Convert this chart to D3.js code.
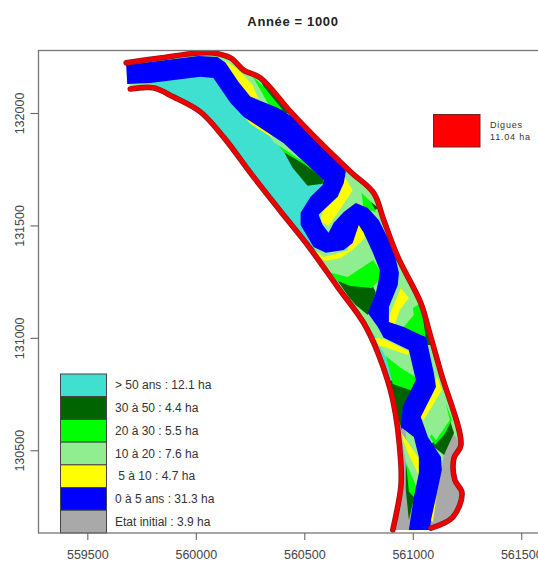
<!DOCTYPE html>
<html>
<head>
<meta charset="utf-8">
<script src="https://cdn.jsdelivr.net/npm/d3@7"></script>
<style>
  html, body { margin: 0; padding: 0; background: #fff; }
  svg { display: block; }
  text { font-family: "Liberation Sans", Arial, sans-serif; }
</style>
</head>
<body>
<svg class="carte"></svg>
<script>
let xTicks = [559500, 560000, 560500, 561000, 561500];
let yTicks = [130500, 131000, 131500, 132000];

let classes = ["> 50 ans : 12.1 ha", "30 à 50 : 4.4 ha", "20 à 30 : 5.5 ha", "10 à 20 : 7.6 ha",
               " 5 à 10 : 4.7 ha", "0 à 5 ans : 31.3 ha", "Etat initial : 3.9 ha"];
let couleurs = ["#40e0d0", "#006400", "#00ff00", "#90ee90", "#ffff00", "#0000ff", "#a9a9a9"];

let digueDroite = [[559679,132223],[559836,132245],[560012,132267],[560081,132267],[560160,132245],[560220,132191],
  [560298,132156],[560437,132005],[560562,131880],[560714,131738],[560820,131644],[560866,131524],[560931,131360],
  [561037,131155],[561074,131035],[561130,130844],[561222,130524],[561190,130466],[561194,130368],[561227,130310],
  [561185,130203],[561084,130154]];
let digueGauche = [[559698,132107],[559804,132112],[559896,132072],[560021,132005],[560127,131894],[560266,131716],
  [560423,131524],[560515,131413],[560654,131226],[560774,131066],[560843,130924],[560908,130724],[560945,130444],
  [560945,130337],[560908,130146]];

// chenal : rive droite en descendant puis rive gauche en remontant
let chenal = [[559679,132214],[560012,132254],[560100,132249],[560137,132223],[560197,132138],[560252,132072],
  [560377,132023],[560469,131969],[560589,131867],[560682,131769],[560691,131738],[560682,131689],[560654,131627],
  [560566,131547],[560585,131502],[560612,131467],[560635,131511],[560682,131560],[560737,131600],[560793,131578],
  [560843,131524],[560913,131391],[560936,131289],[560931,131235],[560890,131137],[560890,131071],[560959,131048],
  [561037,131013],[561061,131004],[561097,130844],[561107,130782],[561037,130648],[561070,130559],[561130,130470],
  [561134,130412],[561084,130190],[561079,130145],
  [560982,130145],[561005,130292],[561028,130399],[561028,130470],[561005,130559],[560945,130604],[560954,130693],
  [561014,130813],[560982,130946],[560866,131000],[560839,131048],[560793,131111],[560830,131200],[560843,131258],
  [560848,131302],[560816,131378],[560774,131467],[560751,131502],[560723,131422],[560682,131391],[560599,131378],
  [560543,131404],[560483,131502],[560483,131556],[560529,131627],[560585,131680],[560589,131702],[560404,131867],
  [560220,131983],[560160,132045],[560081,132156],[560021,132161],[559790,132134],[559684,132129]];

let zones50 = [[[559698,132138],[559804,132129],[559896,132085],[560021,132018],[560127,131907],[560266,131729],
  [560423,131538],[560515,131427],[560654,131240],[560774,131080],[560843,130928],[560908,130724],[560945,130581],
  [560954,130635],[560922,130813],[560839,130991],[560714,131146],[560622,131302],[560538,131413],[560529,131546],
  [560645,131711],[560206,132058],[560044,132191],[559698,132169]]];
let zonesInitial = [[[561185,130577],[561222,130524],[561190,130466],[561194,130368],[561227,130310],[561185,130203],
  [561084,130159],[561061,130235],[561097,130301],[561130,130399],[561144,130488]],
  [[560913,130710],[560968,130581],[560977,130444],[561000,130145],[560908,130145],[560945,130337],[560945,130444]]];
let zones30 = [[[560289,132165],[560446,131996],[560368,132005]],
  [[560404,131831],[560589,131720],[560585,131685],[560515,131676],[560446,131756]],
  [[560806,131605],[560843,131578],[560825,131569]],
  [[560645,131266],[560723,131235],[560816,131231],[560830,131200],[560793,131102],[560737,131146],[560705,131182]],
  [[561028,131177],[561061,131124],[561093,130968],[561014,130968],[561037,131035]],
  [[560890,130813],[561014,130777],[560954,130679],[560950,130590],[560913,130702]],
  [[561171,130635],[561190,130577],[561144,130479],[561084,130524]],
  [[560968,130435],[561010,130301],[560982,130190],[560968,130323]]];
let zones20 = [[[560252,132174],[560317,132112],[560400,132014],[560307,132023]],
  [[560358,131885],[560423,131876],[560538,131765],[560599,131702],[560497,131774],[560404,131827]],
  [[560751,131658],[560806,131605],[560830,131560],[560760,131578]],
  [[560612,131302],[560700,131280],[560816,131347],[560848,131302],[560848,131258],[560811,131222],[560714,131231],[560654,131253]],
  [[561000,131133],[561037,131155],[561061,130991],[560954,131044]],
  [[560876,130920],[560945,130875],[561024,130822],[561014,130759],[560908,130795]],
  [[561153,130706],[561181,130635],[561144,130568],[561102,130524],[561079,130559]],
  [[560968,130457],[561024,130346],[561010,130288],[560982,130315]]];
let zones10 = [[[560206,132192],[560261,132165],[560344,132023],[560275,132058]],
  [[560312,131943],[560423,131885],[560534,131769],[560469,131800],[560358,131871]],
  [[560714,131680],[560760,131667],[560774,131578],[560682,131547],[560626,131471],[560603,131458],[560566,131516]],
  [[560552,131369],[560599,131355],[560723,131400],[560774,131453],[560820,131347],[560700,131271],[560622,131289]],
  [[560954,131222],[560996,131169],[561005,131102],[560954,131044],[560890,131066],[560927,131133]],
  [[560834,130977],[560977,130937],[561019,130822],[560945,130866],[560885,130911]],
  [[561111,130768],[561153,130702],[561171,130635],[561107,130546],[561042,130626]],
  [[560945,130568],[561033,130421],[561019,130332],[560968,130448]]];
let zones5 = [[[560132,132236],[560197,132192],[560261,132125],[560289,132063],[560243,132076],[560197,132125]],
  [[560229,131978],[560331,131934],[560354,131889],[560252,131951]],
  [[560668,131747],[560723,131658],[560649,131547],[560612,131498],[560575,131516],[560599,131636]],
  [[560520,131413],[560589,131360],[560700,131387],[560737,131502],[560769,131498],[560779,131444],[560723,131391],[560668,131355],[560599,131342],[560562,131360]],
  [[560945,131222],[560982,131177],[560940,131124],[560917,131057],[560880,131071]],
  [[560825,131000],[560866,130995],[560987,130937],[560977,130924],[560866,130960],[560843,130964]],
  [[561111,130831],[561134,130768],[561051,130635],[561028,130644],[561097,130759]],
  [[560945,130581],[561042,130444],[561033,130377],[560968,130510]],
  [[561111,130301],[561093,130181],[561079,130190]]];

let width = 538, height = 562,
    frame = {left: 38.5, top: 50.5, right: 541, bottom: 533};

let svg = d3.select(".carte").attr("width", width).attr("height", height);

let x = d3.scaleLinear().domain([559275, 561591]).range([frame.left, frame.right]);
let y = d3.scaleLinear().domain([130132, 132278]).range([frame.bottom, frame.top]);

svg.append("defs").append("filter").attr("id", "flou")
  .append("feGaussianBlur").attr("stdDeviation", 0.5);
svg.select("defs").append("clipPath").attr("id", "cadre").append("rect")
  .attr("x", frame.left).attr("y", frame.top)
  .attr("width", frame.right - frame.left).attr("height", frame.bottom - frame.top);

let ligne = d3.line().x(d => x(d[0])).y(d => y(d[1]));
let ligneDigue = d3.line().x(d => x(d[0])).y(d => y(d[1])).curve(d3.curveCatmullRom.alpha(0.5));
let carte = svg.append("g").attr("clip-path", "url(#cadre)").append("g").attr("filter", "url(#flou)");

// fond du lit entre les deux digues
carte.append("path").attr("d", ligne(digueDroite.concat(digueGauche.slice().reverse())) + "Z")
  .attr("fill", couleurs[3]);

// zones, du fond vers le chenal
[[zones50, 0], [zonesInitial, 6], [zones30, 1], [zones20, 2], [zones10, 3], [zones5, 4]].forEach(z => {
  carte.append("g").selectAll("path").data(z[0]).join("path")
    .attr("d", d => ligne(d) + "Z")
    .attr("fill", couleurs[z[1]]);
});

carte.append("path").attr("d", ligne(chenal) + "Z").attr("fill", couleurs[5]);

// digues : trait sombre puis trait rouge
[digueDroite, digueGauche].forEach(d => {
  carte.append("path").attr("d", ligneDigue(d)).attr("fill", "none")
    .attr("stroke", "#8b1a1a").attr("stroke-width", 5.6).attr("stroke-linecap", "round");
  carte.append("path").attr("d", ligneDigue(d)).attr("fill", "none")
    .attr("stroke", "#ee0000").attr("stroke-width", 4.2).attr("stroke-linecap", "round");
});

// legende
let legendeY = d3.scaleBand().domain(classes).range([374, 533]);
let legende = svg.append("g").attr("class", "legende");
legende.selectAll("rect").data(classes).join("rect")
  .attr("x", 60.5).attr("y", d => legendeY(d)).attr("width", 46).attr("height", legendeY.bandwidth())
  .attr("fill", (d, i) => couleurs[i]).attr("stroke", "#444").attr("stroke-width", 1);
legende.selectAll("text").data(classes).join("text")
  .attr("x", 115).attr("y", d => legendeY(d) + legendeY.bandwidth() / 2 + 4)
  .attr("font-size", 12).attr("fill", "#333").style("white-space", "pre")
  .text(d => d);

svg.append("rect").attr("x", 433.5).attr("y", 114.5).attr("width", 46.5).attr("height", 32.5)
  .attr("fill", "#ff0000").attr("stroke", "#7a2020").attr("stroke-width", 1);
svg.selectAll("text.digues").data(["Digues", "11.04 ha"]).join("text").attr("class", "digues")
  .attr("x", 490).attr("y", (d, i) => 128 + i * 12)
  .attr("font-size", 9).attr("letter-spacing", 0.8).attr("fill", "#333").text(d => d);

// cadre et axes
svg.append("rect").attr("x", frame.left).attr("y", frame.top)
  .attr("width", frame.right - frame.left).attr("height", frame.bottom - frame.top)
  .attr("fill", "none").attr("stroke", "#777").attr("stroke-width", 1.3);

let xAxis = d3.axisBottom(x).tickValues(xTicks).tickSize(7).tickPadding(10.5).tickFormat(d3.format("d"));
let yAxis = d3.axisLeft(y).tickValues(yTicks).tickSize(8).tickFormat(d3.format("d"));

svg.append("g").attr("class", "x axis").attr("transform", "translate(0," + frame.bottom + ")").call(xAxis);
svg.append("g").attr("class", "y axis").attr("transform", "translate(" + frame.left + ",0)").call(yAxis);
svg.selectAll(".axis .domain").remove();
svg.selectAll(".axis line").attr("stroke", "#666").attr("stroke-width", 1.1);
svg.selectAll(".axis text").attr("font-family", "Liberation Sans").attr("font-size", 12.5).attr("fill", "#444");
svg.selectAll(".y.axis text").attr("text-anchor", "middle").attr("x", 0).attr("y", 0).attr("dy", 0)
  .attr("transform", "translate(-15,0) rotate(-90)");

svg.append("text").attr("x", 293).attr("y", 25.5).attr("text-anchor", "middle")
  .attr("font-size", 13).attr("font-weight", "bold").attr("letter-spacing", 0.65).attr("fill", "#222")
  .text("Année = 1000");
</script>
</body>
</html>
